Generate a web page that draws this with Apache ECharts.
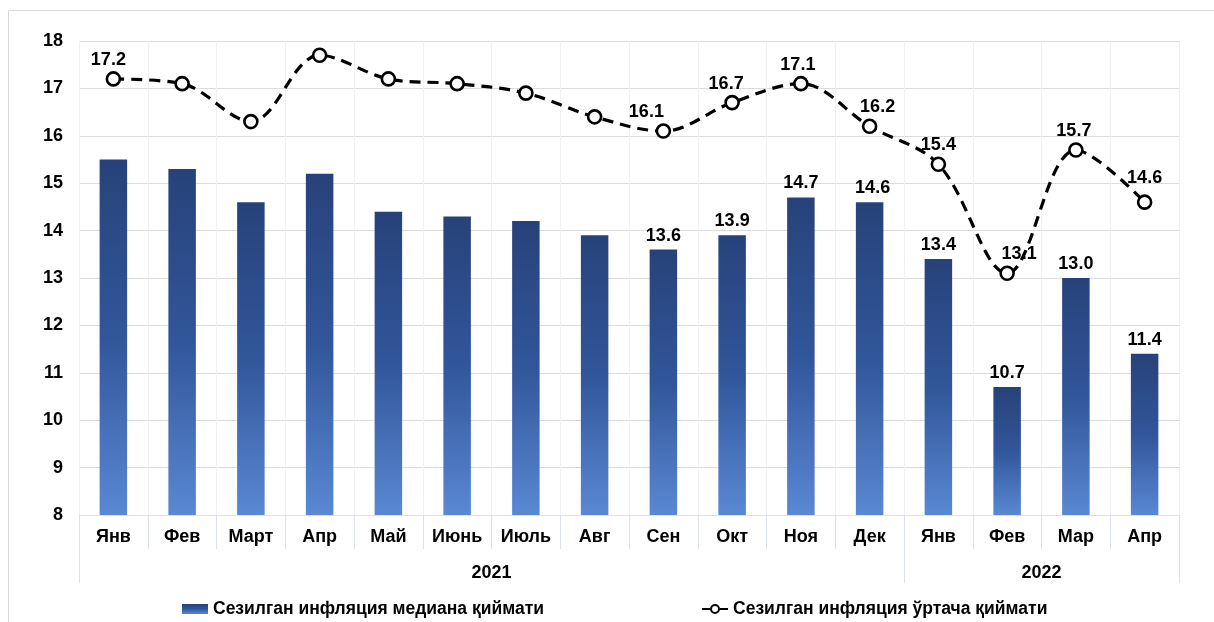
<!DOCTYPE html>
<html><head><meta charset="utf-8">
<script src="https://cdn.jsdelivr.net/npm/echarts@6/dist/echarts.min.js"></script>
<style>html,body{margin:0;padding:0;background:#fff}#c{width:1214px;height:622px}</style>
</head><body><div id="c"></div>
<script>
var months = ['Янв','Фев','Март','Апр','Май','Июнь','Июль','Авг','Сен','Окт','Ноя','Дек','Янв','Фев','Мар','Апр'];
var years = ['2021','2022'];
var yearSpan = [12, 4];
var medianVals = [15.5,15.3,14.6,15.2,14.4,14.3,14.2,13.9,13.6,13.9,14.7,14.6,13.4,10.7,13.0,11.4];
var meanVals = [17.2,17.1,16.3,17.7,17.2,17.1,16.9,16.4,16.1,16.7,17.1,16.2,15.4,13.1,15.7,14.6];
var medianLabeled = [8,9,10,11,12,13,14,15];
var meanLabeled = [0,8,9,10,11,12,13,14,15];
var seriesNames = ['Сезилган инфляция медиана қиймати','Сезилган инфляция ўртача қиймати'];

var FONT = 'Liberation Sans, Arial, sans-serif';
var boundaries = []; for (var i = 0; i <= months.length; i++) boundaries.push('');
var tickIdx = [0], labelIdx = [], acc = 0;
years.forEach(function (y, k) {
  labelIdx.push(acc + yearSpan[k] / 2);
  boundaries[acc + yearSpan[k] / 2] = y;
  acc += yearSpan[k]; tickIdx.push(acc);
});
var meanOffsets = {0:[-5,0],8:[-17,0],9:[-6,0],10:[-3,0],11:[8,0],12:[0,0],13:[12,0],14:[-2,0],15:[0,-5]};
var medianOffsets = {11:[3,0]};

var barGrad = new echarts.graphic.LinearGradient(0,0,0,1,[{offset:0,color:'#27427a'},{offset:0.5,color:'#31569a'},{offset:1,color:'#5a88d3'}]);

var chart = echarts.init(document.getElementById('c'), null, {renderer:'canvas'});
chart.setOption({
  animation: false,
  textStyle: {fontFamily: FONT},
  graphic: [{type:'rect', shape:{x:8.5,y:10.5,width:1300,height:800}, style:{fill:'none',stroke:'#d9d9d9',lineWidth:1}, silent:true}],
  legend: {
    left: 177, top: 595, itemGap: 157, itemWidth: 26, itemHeight: 10,
    textStyle: {fontFamily: FONT, fontWeight:'bold', fontSize: 17.5, color:'#000'},
    data: [{name: seriesNames[0], icon:'rect'}, {name: seriesNames[1]}]
  },
  grid: {left: 79, right: 35, top: 41, bottom: 107},
  xAxis: [{
    type:'category', data: months, position:'bottom',
    axisLine:{show:true, lineStyle:{color:'#dce2ec', width:1}},
    axisTick:{show:true, length:34, lineStyle:{color:'#dce2ec'}},
    axisLabel:{color:'#000', fontWeight:'bold', fontSize:18, margin:13, fontFamily:FONT},
    splitLine:{show:true, lineStyle:{color:'#f0f0f0'}}
  },{
    type:'category', data: boundaries, boundaryGap:false, position:'bottom',
    axisLine:{show:false},
    axisTick:{show:true, length:68, interval:function(i){return tickIdx.indexOf(i)>=0;}, lineStyle:{color:'#dce2ec'}},
    axisLabel:{show:true, interval:function(i){return labelIdx.indexOf(i)>=0;}, color:'#000', fontWeight:'bold', fontSize:18, margin:49, fontFamily:FONT},
    splitLine:{show:false}
  }],
  yAxis: {
    type:'value', min:8, max:18, interval:1,
    axisLine:{show:false}, axisTick:{show:false},
    axisLabel:{color:'#000', fontWeight:'bold', fontSize:18, margin:16, fontFamily:FONT},
    splitLine:{lineStyle:{color:'#dcdcdc', width:1}}
  },
  series: [{
    name: seriesNames[0], type:'bar', xAxisIndex:0, barWidth:'40%',
    itemStyle:{color: barGrad},
    data: medianVals.map(function(v,i){
      var o = medianOffsets[i] || [0,0];
      return {value:v, label:{show: medianLabeled.indexOf(i)>=0, offset:o}};
    }),
    label:{position:'top', distance:5, color:'#000', fontWeight:'bold', fontSize:18, fontFamily:FONT, formatter:function(p){return p.value.toFixed(1);}}
  },{
    name: seriesNames[1], type:'line', xAxisIndex:0, smooth:0.35, z:5,
    symbol:'circle', symbolSize:13,
    lineStyle:{color:'#000', width:3.2, type:[11,7]},
    itemStyle:{color:'#fff', borderColor:'#000', borderWidth:2.6},
    data: meanVals.map(function(v,i){
      var o = meanOffsets[i] || [0,0];
      return {value:v, label:{show: meanLabeled.indexOf(i)>=0, offset:o}};
    }),
    label:{position:'top', distance:2, color:'#000', fontWeight:'bold', fontSize:18, fontFamily:FONT, formatter:function(p){return p.value.toFixed(1);}}
  }]
});
</script></body></html>
